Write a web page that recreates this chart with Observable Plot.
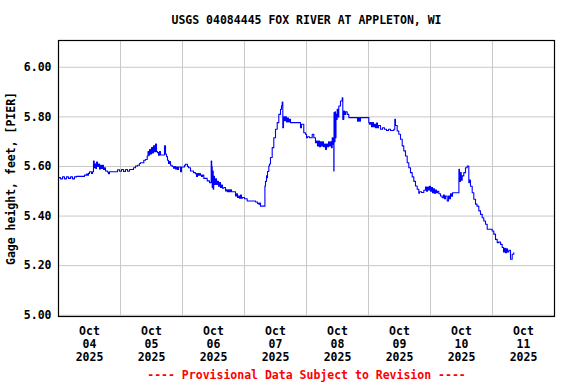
<!DOCTYPE html>
<html>
<head>
<meta charset="utf-8">
<script src="https://cdn.jsdelivr.net/npm/d3@7"></script>
<script src="https://cdn.jsdelivr.net/npm/@observablehq/plot@0.6"></script>
<style>
  html, body { margin: 0; padding: 0; background: white; }
</style>
</head>
<body>
<div id="chart"></div>
<script>
// Title / text
const title = "USGS 04084445 FOX RIVER AT APPLETON, WI";
const yLabel = "Gage height, feet, [PIER]";
const footer = "---- Provisional Data Subject to Revision ----";

// Days shown (UTC dates); labels drawn at noon
const days = ["2025-10-04","2025-10-05","2025-10-06","2025-10-07","2025-10-08","2025-10-09","2025-10-10","2025-10-11"];
const yTicks = [5.0, 5.2, 5.4, 5.6, 5.8, 6.0];

// Hours since 2025-10-04 00:00
const hours = [
  0,0.77,1.55,2.32,3.10,3.87,4.65,5.42,6.19,6.97,8.52,9.68,10.06,10.84,11.23,11.61,12.0,12.77,13.16,
  13.55,13.82,14.13,14.44,14.71,15.10,15.48,15.87,16.26,16.65,17.03,17.42,17.81,18.19,18.97,19.35,19.74,
  22.72,22.84,23.61,24.39,25.16,25.94,26.71,27.48,28.53,29.03,29.81,30.58,31.35,31.74,32.52,33.02,33.68,
  34.34,34.65,34.95,35.23,35.61,36.0,36.39,36.77,37.16,37.55,37.94,38.32,38.71,39.10,39.48,41.03,41.42,
  41.81,42.19,42.58,42.97,43.35,44.01,44.52,44.90,45.29,45.68,46.06,46.45,47.23,47.61,48.39,48.77,49.16,
  49.55,49.94,50.32,51.10,51.87,52.26,53.03,53.42,53.81,54.19,54.58,54.97,55.35,55.74,56.25,56.90,57.56,
  58.06,58.45,59.03,59.11,59.30,59.50,59.69,59.89,60.08,60.39,60.77,61.16,61.55,61.94,62.32,62.71,63.10,
  63.48,63.99,64.65,65.03,65.42,65.81,66.19,66.58,66.97,67.86,68.52,68.90,69.29,69.68,70.06,70.45,70.84,
  71.23,72.0,73.05,75.10,76.26,77.03,77.54,77.81,78.19,79.86,79.90,80.13,80.52,80.71,80.90,81.41,81.68,
  82.06,82.72,83.34,84.0,84.66,85.28,85.94,86.32,86.59,86.83,87.10,87.48,87.87,88.26,88.65,89.03,89.42,
  89.81,93.41,93.68,94.06,94.95,95.61,96.0,96.39,97.16,98.21,98.83,99.48,99.87,100.26,100.65,101.03,
  101.42,101.81,102.19,102.58,102.97,103.35,103.74,104.13,104.52,104.90,105.29,105.68,105.95,106.26,
  106.57,106.65,106.84,107.03,107.23,107.42,107.61,107.88,108.19,108.50,109.16,109.82,110.05,110.44,
  110.71,111.10,111.75,112.37,115.63,115.74,116.13,116.52,116.90,119.50,120.12,120.39,120.77,121.16,
  121.55,121.94,122.32,122.71,123.10,123.48,123.87,124.65,125.42,126.19,126.97,127.74,128.52,129.80,
  130.18,130.45,131.11,131.73,132.39,133.05,133.66,134.32,134.98,135.60,136.26,136.92,137.54,138.19,
  138.85,139.47,139.74,140.52,141.41,142.06,142.45,142.84,143.23,143.61,144.0,144.39,144.77,145.16,
  145.55,145.94,146.32,146.71,147.21,147.87,148.53,149.03,149.42,149.81,150.46,150.97,151.35,151.74,
  152.13,152.52,153.02,154.95,155.0,155.23,155.61,155.89,156.27,156.89,157.55,158.21,158.83,159.10,
  159.48,160.14,160.76,161.42,162.0,162.70,163.35,164.01,164.63,165.29,165.95,167.88,168.50,169.16,
  169.82,170.32,171.10,171.75,172.26,172.65,173.03,173.42,173.81,174.31,174.97,175.63,176.25
];

// Gage height, feet
const gage = [
  5.555,5.550,5.558,5.550,5.558,5.552,5.558,5.550,5.558,5.560,5.560,5.560,5.565,5.569,5.565,5.572,5.579,5.572,5.579,
  5.622,5.595,5.610,5.592,5.618,5.600,5.610,5.590,5.605,5.592,5.605,5.588,5.595,5.582,5.578,5.571,5.579,
  5.579,5.587,5.581,5.588,5.580,5.588,5.581,5.588,5.588,5.595,5.602,5.605,5.612,5.615,5.615,5.625,5.628,
  5.642,5.660,5.645,5.668,5.650,5.676,5.655,5.683,5.660,5.690,5.660,5.656,5.645,5.660,5.646,5.683,5.650,
  5.640,5.625,5.612,5.620,5.605,5.600,5.593,5.600,5.590,5.598,5.588,5.598,5.579,5.598,5.598,5.605,5.609,
  5.609,5.600,5.595,5.582,5.582,5.575,5.571,5.560,5.571,5.565,5.571,5.565,5.560,5.565,5.552,5.552,5.542,
  5.542,5.535,5.535,5.622,5.600,5.515,5.582,5.508,5.560,5.528,5.550,5.528,5.540,5.520,5.535,5.515,5.525,
  5.512,5.515,5.501,5.506,5.498,5.506,5.498,5.506,5.498,5.498,5.481,5.490,5.475,5.481,5.472,5.485,5.472,
  5.475,5.470,5.461,5.461,5.457,5.451,5.448,5.452,5.440,5.440,5.521,5.540,5.562,5.555,5.580,5.602,5.610,
  5.636,5.676,5.716,5.750,5.777,5.810,5.831,5.845,5.860,5.756,5.800,5.785,5.800,5.780,5.795,5.780,5.790,
  5.777,5.777,5.756,5.770,5.736,5.730,5.716,5.720,5.716,5.730,5.716,5.696,5.703,5.683,5.703,5.680,
  5.700,5.683,5.700,5.680,5.690,5.669,5.690,5.680,5.700,5.683,5.700,5.676,5.716,5.690,
  5.582,5.817,5.700,5.820,5.716,5.810,5.790,5.831,5.800,5.844,5.864,5.877,5.790,5.824,
  5.810,5.820,5.810,5.797,5.797,5.783,5.797,5.783,5.797,5.797,5.777,5.770,5.777,5.760,
  5.777,5.760,5.770,5.756,5.775,5.756,5.765,5.750,5.756,5.750,5.745,5.750,5.745,5.750,
  5.790,5.765,5.743,5.730,5.710,5.683,5.663,5.642,5.615,5.595,5.575,5.558,5.540,5.521,
  5.508,5.492,5.498,5.495,5.504,5.517,5.500,5.517,5.505,5.520,5.500,5.515,5.494,5.510,
  5.492,5.505,5.494,5.500,5.490,5.481,5.474,5.485,5.470,5.481,5.461,5.481,5.470,5.490,
  5.480,5.494,5.494,5.494,5.589,5.540,5.575,5.545,5.562,5.575,5.595,5.602,5.535,5.545,
  5.520,5.494,5.468,5.448,5.440,5.421,5.407,5.393,5.380,5.367,5.347,5.340,5.327,5.306,
  5.293,5.295,5.286,5.273,5.255,5.270,5.252,5.268,5.255,5.262,5.226,5.246,5.252
];

const t0 = Date.UTC(2025, 9, 4);
const data = hours.map((h, i) => ({ t: new Date(t0 + h * 3600e3), v: gage[i] }));

const dayStart = days.map(d => new Date(d + "T00:00:00Z"));
const dayEnd = new Date(Date.UTC(2025, 9, 12));
const noonTicks = dayStart.map(d => new Date(+d + 12 * 3600e3));
const innerBounds = dayStart.slice(1);

const chart = Plot.plot({
  width: 576,
  height: 384,
  marginLeft: 58,
  marginRight: 22,
  marginTop: 40,
  marginBottom: 68,
  style: {
    fontFamily: "'DejaVu Sans Mono', monospace",
    fontSize: "11.5px",
    fontWeight: "bold",
    background: "white",
    color: "black"
  },
  x: { type: "utc", domain: [dayStart[0], dayEnd] },
  y: { domain: [4.995, 6.108] },
  marks: [
    Plot.ruleY(yTicks, { y: d => d, stroke: "#c8c8c8", strokeWidth: 1 }),
    Plot.ruleX(innerBounds, { x: d => d, stroke: "#c8c8c8", strokeWidth: 1 }),
    Plot.line(data, { x: "t", y: "v", curve: "step-after", stroke: "#0000ff", strokeWidth: 1.1 }),
    Plot.frame({ stroke: "black", strokeWidth: 1.2 }),
    Plot.axisY({
      ticks: yTicks,
      tickFormat: d3.format(".2f"),
      tickSize: 0,
      tickPadding: 7,
      label: yLabel,
      labelAnchor: "center",
      labelArrow: "none",
      labelOffset: 52
    }),
    Plot.axisX({
      ticks: noonTicks,
      tickFormat: d3.utcFormat("%b\n%d\n%Y"),
      tickSize: 0,
      tickPadding: 9,
      lineHeight: 1.13,
      label: null
    }),
    Plot.text([title], { text: d => d, frameAnchor: "top", dy: -20, lineAnchor: "middle", fill: "black" }),
    Plot.text([footer], { text: d => d, frameAnchor: "bottom", dy: 59, lineAnchor: "middle", fill: "#ff0000" })
  ]
});

document.getElementById("chart").appendChild(chart);
</script>
</body>
</html>
